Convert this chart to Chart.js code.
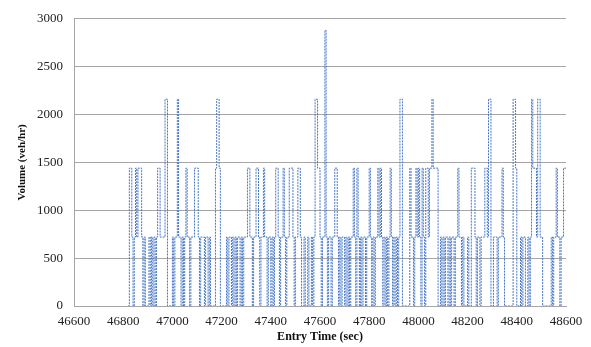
<!DOCTYPE html>
<html>
<head>
<meta charset="utf-8">
<script src="https://cdn.jsdelivr.net/npm/chart.js@4"></script>
<style>
  html, body { margin: 0; padding: 0; background: #fff; }
  #wrap { width: 591px; height: 347px; }
</style>
</head>
<body>
<div id="wrap"><canvas id="volumeChart" width="591" height="347"></canvas></div>
<script>
// Entry time (sec) at which the volume changes, and the volume from then on (veh/hr)
const entryTimes = [
  46820, 46825, 46835, 46840, 46845, 46850, 46855, 46860, 46875, 46880,
  46885, 46890, 46905, 46910, 46915, 46920, 46925, 46930, 46935, 46940,
  46950, 46970, 46980, 47000, 47005, 47010, 47020, 47025, 47035, 47040,
  47045, 47050, 47055, 47060, 47070, 47075, 47090, 47105, 47110, 47115,
  47130, 47135, 47145, 47150, 47155, 47175, 47180, 47190, 47195, 47220,
  47225, 47230, 47240, 47245, 47250, 47255, 47260, 47265, 47275, 47280,
  47285, 47290, 47305, 47315, 47325, 47330, 47340, 47350, 47355, 47360,
  47370, 47375, 47385, 47390, 47400, 47405, 47410, 47415, 47420, 47430,
  47435, 47440, 47450, 47455, 47460, 47465, 47475, 47490, 47495, 47500,
  47510, 47520, 47525, 47535, 47540, 47550, 47555, 47565, 47570, 47575,
  47580, 47590, 47600, 47605, 47610, 47620, 47625, 47630, 47635, 47645,
  47650, 47660, 47670, 47675, 47680, 47685, 47690, 47700, 47705, 47710,
  47715, 47720, 47725, 47735, 47740, 47745, 47750, 47755, 47760, 47765,
  47770, 47775, 47785, 47790, 47800, 47805, 47810, 47815, 47820, 47825,
  47835, 47840, 47845, 47850, 47855, 47860, 47865, 47870, 47875, 47880,
  47885, 47890, 47895, 47900, 47905, 47910, 47915, 47920, 47925, 47935,
  47965, 47970, 47980, 47985, 47990, 47995, 48000, 48005, 48010, 48015,
  48020, 48025, 48030, 48040, 48045, 48055, 48060, 48080, 48090, 48095,
  48100, 48105, 48110, 48120, 48125, 48130, 48135, 48145, 48150, 48160,
  48165, 48175, 48180, 48185, 48200, 48205, 48215, 48230, 48235, 48240,
  48250, 48255, 48270, 48280, 48285, 48295, 48305, 48320, 48325, 48340,
  48345, 48350, 48385, 48395, 48400, 48415, 48420, 48425, 48435, 48445,
  48450, 48455, 48460, 48465, 48480, 48485, 48495, 48505, 48540, 48545,
  48550, 48560, 48565, 48575, 48580, 48590, 48600
];
const volumes = [
  0, 1440, 720, 0, 720, 1440, 720, 1440, 720, 0,
  720, 0, 720, 0, 720, 0, 720, 0, 720, 1440,
  720, 2160, 0, 720, 0, 720, 2160, 720, 0, 720,
  0, 720, 1440, 720, 0, 720, 1440, 720, 0, 720,
  0, 720, 0, 720, 0, 1440, 2160, 1440, 0, 720,
  0, 720, 0, 720, 0, 720, 0, 720, 0, 720,
  0, 720, 1440, 720, 0, 720, 1440, 720, 0, 720,
  1440, 720, 0, 720, 0, 720, 0, 720, 1440, 720,
  0, 720, 1440, 720, 0, 720, 1440, 720, 0, 720,
  1440, 720, 0, 720, 0, 720, 0, 720, 0, 720,
  2160, 1440, 720, 0, 720, 2880, 720, 0, 720, 0,
  720, 1440, 720, 0, 720, 0, 720, 0, 720, 0,
  720, 0, 720, 1440, 720, 0, 1440, 720, 0, 720,
  0, 720, 0, 720, 1440, 720, 0, 720, 0, 720,
  1440, 720, 1440, 720, 0, 720, 0, 720, 0, 720,
  1440, 720, 0, 720, 0, 720, 0, 720, 2160, 0,
  1440, 720, 0, 720, 1440, 720, 1440, 720, 0, 1440,
  720, 0, 1440, 720, 1440, 2160, 1440, 0, 720, 0,
  720, 0, 720, 0, 720, 0, 720, 0, 720, 1440,
  720, 0, 720, 0, 720, 0, 1440, 720, 0, 720,
  0, 720, 1440, 720, 2160, 0, 720, 0, 720, 1440,
  720, 0, 2160, 1440, 0, 720, 0, 720, 0, 720,
  0, 720, 2160, 1440, 720, 2160, 720, 0, 720, 0,
  720, 1440, 720, 0, 720, 1440, 1440
];
const xTicks = { min: 46600, max: 48600, step: 200 };
const yTicks = { min: 0, max: 3000, step: 500 };

const serif = '"Liberation Serif", "Times New Roman", serif';
const gridGray = '#a6a6a6';

const points = entryTimes.map((t, i) => ({ x: t, y: volumes[i] }));

new Chart(document.getElementById('volumeChart').getContext('2d'), {
  type: 'line',
  data: {
    datasets: [{
      data: points,
      stepped: true,
      borderColor: '#4676c6',
      borderWidth: 1,
      borderDash: [2, 1],
      pointRadius: 0,
      fill: false
    }]
  },
  options: {
    responsive: false,
    animation: false,
    devicePixelRatio: 1,
    layout: { padding: { top: 13, right: 25, left: 0, bottom: 0 } },
    plugins: {
      legend: { display: false },
      tooltip: { enabled: false }
    },
    scales: {
      x: {
        type: 'linear',
        min: xTicks.min,
        max: xTicks.max,
        afterFit: s => { s.height = 41; },
        grid: { display: false, drawTicks: false },
        border: { display: true, color: gridGray },
        ticks: {
          stepSize: xTicks.step,
          padding: 8,
          color: '#222',
          maxRotation: 0,
          autoSkip: false,
          font: { family: serif, size: 13 },
          callback: v => String(v)
        },
        title: {
          display: true,
          text: 'Entry Time (sec)',
          color: '#111',
          padding: { top: 0, bottom: 3 },
          font: { family: serif, size: 12, weight: 'bold' }
        }
      },
      y: {
        min: yTicks.min,
        max: yTicks.max,
        afterFit: s => { s.width = 74; },
        grid: { color: gridGray, drawTicks: false },
        border: { display: true, color: gridGray },
        ticks: {
          stepSize: yTicks.step,
          padding: 11,
          color: '#222',
          font: { family: serif, size: 13 },
          callback: v => String(v)
        },
        title: {
          display: true,
          text: 'Volume (veh/hr)',
          color: '#111',
          padding: { top: 16, bottom: 0 },
          font: { family: serif, size: 11, weight: 'bold' }
        }
      }
    }
  }
});
</script>
</body>
</html>
